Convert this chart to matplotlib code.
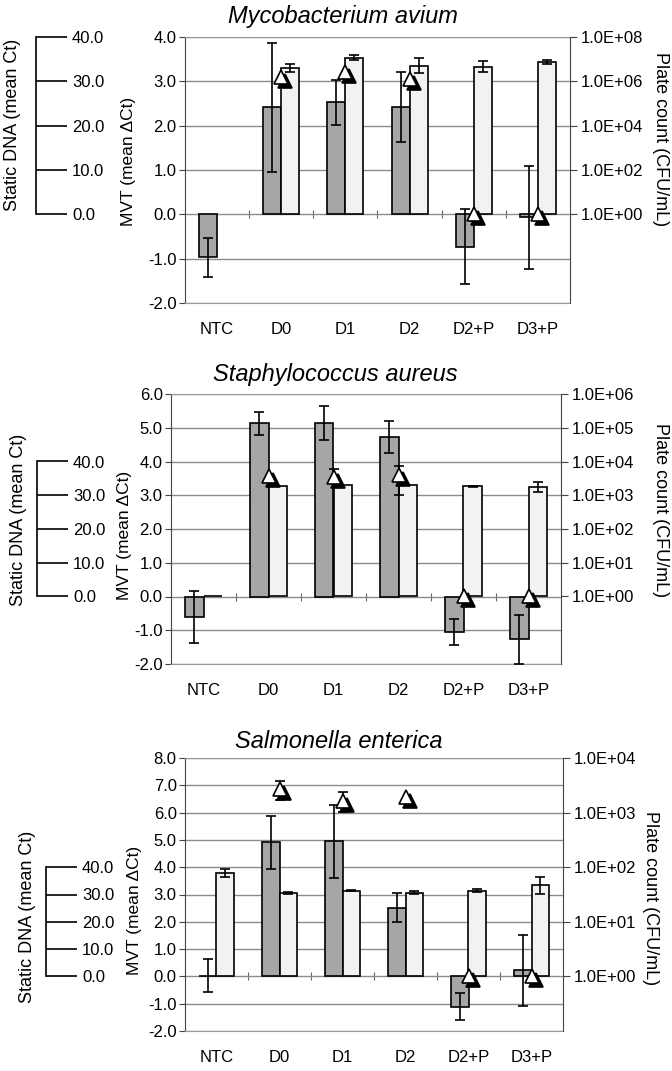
import numpy as np
import matplotlib.pyplot as plt
from matplotlib.ticker import FixedLocator, FuncFormatter, NullLocator
from matplotlib.transforms import ScaledTranslation

plt.rcParams['font.family'] = ['Liberation Sans', 'DejaVu Sans']

groups = ['NTC', 'D0', 'D1', 'D2', 'D2+P', 'D3+P']

# Mycobacterium avium
myco_mvt = [-0.97, 2.41, 2.53, 2.42, -0.73, -0.07]
myco_mvt_err = [0.44, 1.46, 0.51, 0.79, 0.85, 1.16]
myco_ct = [np.nan, 33.0, 35.3, 33.5, 33.3, 34.3]
myco_ct_err = [0, 0.9, 0.6, 1.7, 1.3, 0.5]
myco_cfu = [np.nan, 1.5e6, 2.7e6, 1.3e6, 1, 1]
myco_cfu_lo = [0, 0, 0, 0, 0, 0]
myco_cfu_hi = [0, 0, 0, 0, 0, 0]

# Staphylococcus aureus
staph_mvt = [-0.61, 5.14, 5.14, 4.72, -1.05, -1.27]
staph_mvt_err = [0.76, 0.34, 0.49, 0.47, 0.38, 0.73]
staph_ct = [0.0, 32.6, 33.1, 33.1, 32.6, 32.5]
staph_ct_err = [0, 0, 0, 0, 0.1, 1.4]
staph_cfu = [np.nan, 3800, 3550, 4100, 1, 1]
staph_cfu_lo = [0, 0, 1000, 3100, 0, 0]
staph_cfu_hi = [0, 0, 2450, 3100, 0, 0]

# Salmonella enterica
salm_mvt = [0.03, 4.91, 4.95, 2.52, -1.11, 0.23]
salm_mvt_err = [0.60, 0.96, 1.33, 0.53, 0.50, 1.30]
salm_ct = [37.9, 30.6, 31.3, 30.7, 31.4, 33.3]
salm_ct_err = [1.5, 0.3, 0.2, 0.5, 0.6, 3.0]
salm_cfu = [np.nan, 2720, 1640, 1930, 1, 1]
salm_cfu_lo = [0, 1000, 600, 0, 0, 0]
salm_cfu_hi = [0, 1120, 710, 0, 0, 0]

W, H = 672, 1071
fig = plt.figure(figsize=(W / 100, H / 100), dpi=100)


def px(x, y):
    return x / W, 1 - y / H


panels = [
    dict(title='Mycobacterium avium', mvt=myco_mvt, mvt_err=myco_mvt_err,
         ct=myco_ct, ct_err=myco_ct_err, cfu=myco_cfu, lo=myco_cfu_lo, hi=myco_cfu_hi,
         box=(185, 37, 570, 303), ylim=(-2, 4), rlim=(1e-4, 1e8), rticks=[1e0, 1e2, 1e4, 1e6, 1e8],
         spos=36, title_xy=(343, 16), mvt_lab=(129, 161), st_lab=(13, 125), pc_lab=(660, 139)),
    dict(title='Staphylococcus aureus', mvt=staph_mvt, mvt_err=staph_mvt_err,
         ct=staph_ct, ct_err=staph_ct_err, cfu=staph_cfu, lo=staph_cfu_lo, hi=staph_cfu_hi,
         box=(171, 394, 561, 664), ylim=(-2, 6), rlim=(1e-2, 1e6), rticks=[1e0, 1e1, 1e2, 1e3, 1e4, 1e5, 1e6],
         spos=37, title_xy=(335, 374), mvt_lab=(125, 535), st_lab=(19, 520), pc_lab=(660, 510)),
    dict(title='Salmonella enterica', mvt=salm_mvt, mvt_err=salm_mvt_err,
         ct=salm_ct, ct_err=salm_ct_err, cfu=salm_cfu, lo=salm_cfu_lo, hi=salm_cfu_hi,
         box=(185, 758, 563, 1031), ylim=(-2, 8), rlim=(1e-1, 1e4), rticks=[1e0, 1e1, 1e2, 1e3, 1e4],
         spos=46, title_xy=(339, 741), mvt_lab=(135, 910), st_lab=(28, 917), pc_lab=(651, 898)),
]

x = np.arange(len(groups))
w = 0.28
shadow = ScaledTranslation(0.04, -0.04, fig.dpi_scale_trans)

for p in panels:
    l, t, r, b = p['box']
    ax = fig.add_axes([l / W, 1 - b / H, (r - l) / W, (b - t) / H])
    y0, y1 = p['ylim']
    ax.set_xlim(-0.5, 5.5)
    ax.set_ylim(y0, y1)
    ax.set_yticks(np.arange(y0, y1 + 1))
    ax.yaxis.set_major_formatter(FuncFormatter(lambda v, pos: f'{v:.1f}'))
    ax.yaxis.grid(True, color='#8c8c8c', lw=1)
    ax.set_axisbelow(True)
    ax.set_xticks(x, groups)
    ax.tick_params(axis='x', length=0, pad=14, labelsize=12)
    ax.tick_params(axis='y', direction='out', length=4, color='#444444', labelsize=12, pad=2)
    ax.spines['left'].set_color('#444444')
    ax.spines['right'].set_visible(False)
    for s in ['top', 'bottom']:
        ax.spines[s].set_color('#999999')

    # category separators on the zero line
    sec = ax.secondary_xaxis((0 - y0) / (y1 - y0))
    sec.set_xticks(x[:-1] + 0.5)
    sec.set_xticklabels([])
    sec.tick_params(direction='inout', length=6, color='#666666')
    sec.spines['bottom'].set_visible(False)

    mvt = np.array(p['mvt'])
    mvt_err = np.array(p['mvt_err'])
    ax.bar(x - w / 2, mvt, w, color='#a6a6a6', edgecolor='black', lw=1.2, zorder=2)
    m = mvt_err > 0
    ax.errorbar((x - w / 2)[m], mvt[m], yerr=mvt_err[m], fmt='none', ecolor='black',
                elinewidth=1.2, capsize=3.3, capthick=1.2, zorder=3)

    # static DNA axis
    axs = ax.twinx()
    axs.set_ylim(y0 * 10, y1 * 10)
    for s in ['left', 'top', 'bottom']:
        axs.spines[s].set_visible(False)
    axs.spines['right'].set_position(('axes', (p['spos'] - l) / (r - l)))
    axs.spines['right'].set_bounds(0, 40)
    axs.spines['right'].set_linewidth(1.2)
    axs.set_yticks([0, 10, 20, 30, 40])
    axs.yaxis.set_major_formatter(FuncFormatter(lambda v, pos: f'{v:.1f}'))
    axs.tick_params(axis='y', direction='out', length=22, width=1.2, pad=4, labelsize=12)
    ct = np.array(p['ct'])
    ct_err = np.array(p['ct_err'])
    axs.bar(x + w / 2, ct, w, color='#f2f2f2', edgecolor='black', lw=1.2)
    m = ct_err > 0
    axs.errorbar((x + w / 2)[m], ct[m], yerr=ct_err[m], fmt='none', ecolor='black',
                 elinewidth=1.2, capsize=3.3, capthick=1.2)

    # plate count axis
    axp = ax.twinx()
    axp.set_yscale('log')
    axp.set_ylim(*p['rlim'])
    axp.yaxis.set_major_locator(FixedLocator(p['rticks']))
    axp.yaxis.set_minor_locator(NullLocator())
    axp.yaxis.set_major_formatter(FuncFormatter(lambda v, pos: f'{v:.1E}'))
    axp.tick_params(axis='y', direction='out', length=5, color='#444444', labelsize=12, pad=3)
    for s in ['left', 'top', 'bottom']:
        axp.spines[s].set_visible(False)
    axp.spines['right'].set_color('#444444')
    cfu = np.array(p['cfu'])
    lo = np.array(p['lo'])
    hi = np.array(p['hi'])
    m = (lo + hi) > 0
    if m.any():
        axp.errorbar(x[m], cfu[m], yerr=[lo[m], hi[m]], fmt='none', ecolor='black',
                     elinewidth=1.2, capsize=3.3, capthick=1.2)
    axp.plot(x, cfu, '^', ms=10.5, mfc='black', mec='black', mew=1.2,
             transform=axp.transData + shadow)
    axp.plot(x, cfu, '^', ms=10.5, mfc='white', mec='black', mew=1.2)

    fig.text(*px(*p['title_xy']), p['title'], fontsize=17, style='italic',
             ha='center', va='center')
    fig.text(*px(*p['mvt_lab']), 'MVT (mean ΔCt)', fontsize=12.5, rotation=90,
             ha='center', va='center')
    fig.text(*px(*p['st_lab']), 'Static DNA (mean Ct)', fontsize=13, rotation=90,
             ha='center', va='center')
    fig.text(*px(*p['pc_lab']), 'Plate count (CFU/mL)', fontsize=13, rotation=270,
             ha='center', va='center')

fig.savefig('out.png', dpi=100)
